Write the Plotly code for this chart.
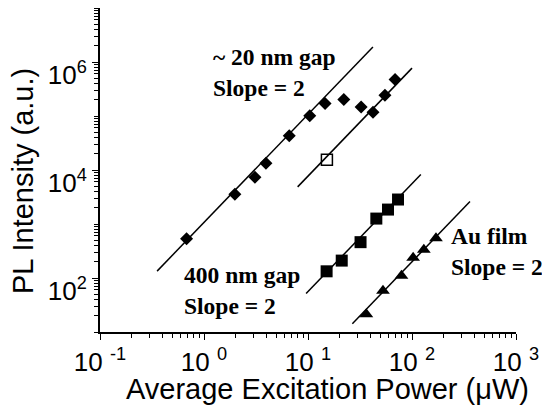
import plotly.graph_objects as go

# ~20 nm gap (filled diamonds)
gap20_x = [0.68, 1.98, 3.09, 3.94, 6.6, 10.4, 14.6, 22.1, 32.4, 42.2, 54.9, 68.7]
gap20_y = [533, 3570, 7310, 13300, 43000, 101600, 170000, 202000, 146000, 117000, 243000, 476000]
# open square point
open_x = [15.2]
open_y = [15400]
# 400 nm gap (filled squares)
gap400_x = [15.1, 21.1, 32.0, 45.4, 58.8, 73.4]
gap400_y = [133, 210, 461, 1260, 1850, 2840]
# Au film (triangles)
au_x = [36.4, 52.6, 79.2, 102.5, 130, 170]
au_y = [21.3, 58, 110, 236, 333, 547]
# slope-2 fit lines: y = A * x^2 over [xmin, xmax]
fit_A = [1070, 77, 0.56, 0.02]
fit_xmin = [0.354, 7.95, 9.59, 26.7]
fit_xmax = [42.1, 100, 121.6, 361]

x_tickvals = [0.1, 1, 10, 100, 1000]
x_ticktext = ["10 <sup>-1</sup>", "10 <sup>0</sup>", "10 <sup>1</sup>", "10 <sup>2</sup>", "10 <sup>3</sup>"]
y_tickvals = [1e2, 1e4, 1e6]
y_ticktext = ["10<sup>2</sup>", "10<sup>4</sup>", "10<sup>6</sup>"]

fig = go.Figure()
for A, x0, x1 in zip(fit_A, fit_xmin, fit_xmax):
    fig.add_trace(go.Scatter(x=[x0, x1], y=[A * x0 ** 2, A * x1 ** 2], mode="lines",
                             line=dict(color="black", width=1.5), showlegend=False, hoverinfo="skip"))

fig.add_trace(go.Scatter(x=gap20_x, y=gap20_y, mode="markers",
                         marker=dict(symbol="diamond", size=10, color="black"), showlegend=False))
fig.add_trace(go.Scatter(x=open_x, y=open_y, mode="markers",
                         marker=dict(symbol="square-open", size=11, color="black", line=dict(width=1.5)),
                         showlegend=False))
fig.add_trace(go.Scatter(x=gap400_x, y=gap400_y, mode="markers",
                         marker=dict(symbol="square", size=12, color="black"), showlegend=False))
fig.add_trace(go.Scatter(x=au_x, y=au_y, mode="markers",
                         marker=dict(symbol="triangle-up", size=12, color="black"), showlegend=False))

minor_x = [k * 10 ** n for n in range(-1, 3) for k in range(2, 10)]
minor_y = [k * 10 ** n for n in range(1, 7) for k in range(2, 10)] + [1e1, 1e3, 1e5, 1e7]

fig.update_xaxes(type="log", range=[-1, 3], showgrid=False, zeroline=False,
                 showline=True, linecolor="black", linewidth=2,
                 ticks="outside", ticklen=6, tickwidth=1.2, tickcolor="black",
                 tickvals=x_tickvals, ticktext=x_ticktext,
                 tickfont=dict(family="Liberation Sans, Arial", size=26, color="black"),
                 minor=dict(ticks="outside", ticklen=4, tickwidth=1, tickcolor="black",
                            tickvals=minor_x))
fig.update_yaxes(type="log", range=[1, 7], showgrid=False, zeroline=False,
                 showline=True, linecolor="black", linewidth=2,
                 ticks="outside", ticklen=6, tickwidth=1.2, tickcolor="black",
                 tickvals=y_tickvals, ticktext=y_ticktext, ticklabelshift=13,
                 tickfont=dict(family="Liberation Sans, Arial", size=26, color="black"),
                 minor=dict(ticks="outside", ticklen=4, tickwidth=1, tickcolor="black",
                            tickvals=minor_y))

ann_font = dict(family="Liberation Serif, Times New Roman", size=23.5, color="black")
title_font = dict(family="Liberation Sans, Arial", size=29, color="black")
fig.update_layout(
    width=542, height=397,
    margin=dict(l=92, r=34, t=0, b=73, autoexpand=False),
    paper_bgcolor="white", plot_bgcolor="white",
    annotations=[
        dict(text="<b>~ 20 nm gap<br>Slope = 2</b>", xref="paper", yref="paper",
             x=0.267, y=0.7994, xanchor="left", yanchor="middle", align="left",
             showarrow=False, font=ann_font),
        dict(text="<b>400 nm gap<br>Slope = 2</b>", xref="paper", yref="paper",
             x=0.197, y=0.127, xanchor="left", yanchor="middle", align="left",
             showarrow=False, font=ann_font),
        dict(text="<b>Au film<br>Slope = 2</b>", xref="paper", yref="paper",
             x=0.838, y=0.247, xanchor="left", yanchor="middle", align="left",
             showarrow=False, font=ann_font),
        dict(text="Average Excitation Power (\u03bcW)", xref="paper", yref="paper",
             x=(327 - 100) / 416, y=(332 - 389) / 324, xanchor="center", yanchor="middle",
             showarrow=False, font=title_font),
        dict(text="PL Intensity (a.u.)", xref="paper", yref="paper", textangle=-90,
             x=(23 - 100) / 416, y=1 - (181 - 8) / 324, xanchor="center", yanchor="middle",
             showarrow=False, font=title_font),
    ],
)

fig.write_html("out.html")
